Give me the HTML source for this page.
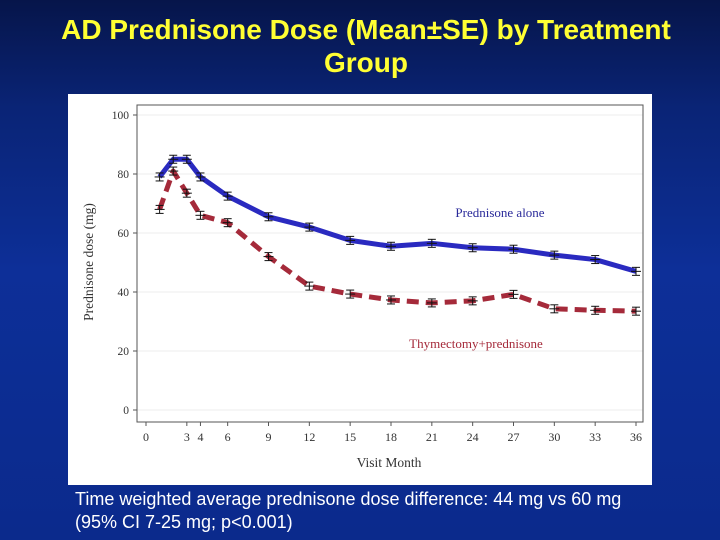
<!DOCTYPE html>
<html><head><meta charset="utf-8"><style>
body{margin:0;width:720px;height:540px;overflow:hidden;background:linear-gradient(180deg,#06154a 0%,#0a2476 20%,#0d2f98 50%,#0b2a8c 100%);font-family:"Liberation Sans",sans-serif;position:relative}
#title{position:absolute;left:0;width:732px;top:13px;text-align:center;color:#ffff33;font-weight:bold;font-size:28px;line-height:33px}
#panel{position:absolute;left:68px;top:94px;width:584px;height:391px;background:#fff}
#foot{position:absolute;left:75px;top:488px;color:#fff;font-size:18px;line-height:23px}
</style></head><body>
<div id="title">AD Prednisone Dose (Mean±SE) by Treatment<br>Group</div>
<div id="panel"></div>
<svg id="chart" width="720" height="540" style="position:absolute;left:0;top:0"></svg>
<div id="foot">Time weighted average prednisone dose difference: 44 mg vs 60 mg<br>(95% CI 7-25 mg; p&lt;0.001)</div>
<script>
const months=[1,2,3,4,6,9,12,15,18,21,24,27,30,33,36];
const alone=[79,85,85,79,72.5,65.5,62,57.5,55.5,56.5,55,54.5,52.5,51,47];
const thym=[68,81,73.5,66,63.5,52,42,39.3,37.3,36.3,37,39.2,34.3,33.8,33.5];
const xTicks=[0,3,4,6,9,12,15,18,21,24,27,30,33,36];
const yTicks=[0,20,40,60,80,100];
const NS="http://www.w3.org/2000/svg";
const svg=document.getElementById('chart');
const X=m=>146+m*(636-146)/36, Y=v=>410-v*(410-115)/100;
function el(t,a,p){const e=document.createElementNS(NS,t);for(const k in a)e.setAttribute(k,a[k]);(p||svg).appendChild(e);return e;}
const ser="Liberation Serif, serif";
yTicks.forEach(v=>{
 const g=el('line',{x1:137,x2:643,y1:Y(v),y2:Y(v),stroke:'#eee'});
 
 
 el('line',{x1:133,x2:137,y1:Y(v),y2:Y(v),stroke:'#555'});
 const t=el('text',{x:129,y:Y(v)+4,'text-anchor':'end','font-size':11.5,'font-family':ser,fill:'#333'});t.textContent=v;
 
 
});
const fr=el('rect',{x:137,y:105,width:506,height:317,fill:'none',stroke:'#555'});


xTicks.forEach(m=>{
 el('line',{x1:X(m),x2:X(m),y1:422,y2:426,stroke:'#555'});
 const t=el('text',{x:X(m),y:441,'text-anchor':'middle','font-size':12,'font-family':ser,fill:'#333'});t.textContent=m;
 
 
});
let t=el('text',{x:389,y:467,'text-anchor':'middle','font-size':13.5,'font-family':ser,fill:'#333'});t.textContent='Visit Month';


t=el('text',{x:0,y:0,transform:'translate(93,262) rotate(-90)','text-anchor':'middle','font-size':13.5,'font-family':ser,fill:'#333'});t.textContent='Prednisone dose (mg)';


function series(vals,col,dash,name){
 const p=el('polyline',{points:months.map((m,i)=>X(m)+','+Y(vals[i])).join(' '),fill:'none',stroke:col,'stroke-width':5,'stroke-dasharray':dash,'stroke-linejoin':'round'});
 
 
 months.forEach((m,i)=>{
  const g=el('g',{});
  
  
  const x=X(m),y=Y(vals[i]);
  el('line',{x1:x,x2:x,y1:y-4,y2:y+4,stroke:'#111','stroke-width':1},g);
  el('line',{x1:x-4,x2:x+4,y1:y-4,y2:y-4,stroke:'#111'},g);
  el('line',{x1:x-4,x2:x+4,y1:y+4,y2:y+4,stroke:'#111'},g);
  el('line',{x1:x-5,x2:x+5,y1:y,y2:y,stroke:'#111'},g);
 });
}
series(alone,'#2a2ac0','','prednisone-alone');
series(thym,'#a52a3a','12 7','thymectomy');
t=el('text',{x:500,y:217,'text-anchor':'middle','font-size':13,'font-family':ser,fill:'#2a2a9a'});t.textContent='Prednisone alone';


t=el('text',{x:476,y:348,'text-anchor':'middle','font-size':13,'font-family':ser,fill:'#a52a3a'});t.textContent='Thymectomy+prednisone';


</script>
</body></html>
